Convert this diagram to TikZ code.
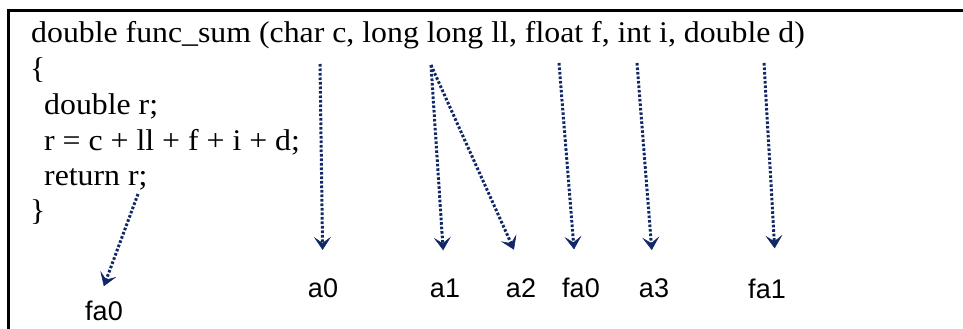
\documentclass[tikz,border=0pt]{standalone}
\usepackage{fontspec}
\usetikzlibrary{arrows.meta}
\newfontfamily\codefont{Liberation Serif}[FakeStretch=1.06]
\newfontfamily\lblfont{Liberation Sans}
\definecolor{argnavy}{RGB}{18,40,102}

\begin{document}
\begin{tikzpicture}[x=1pt, y=-1pt,
  codeln/.style={anchor=base west, inner sep=0pt, font={\codefont\fontsize{30}{36}\selectfont}},
  reglbl/.style={anchor=base, inner sep=0pt, font={\lblfont\fontsize{27}{32}\selectfont}},
  passarr/.style={draw=argnavy, line width=3pt, dash pattern=on 2.6pt off 1.9pt,
    -{Stealth[length=13pt, width=17pt, inset=6pt, line width=0.5pt]}}
]
\useasboundingbox (0,0) rectangle (963,329);
\draw[line width=3pt] (8,329) -- (8,11) -- (963,11);
% the code
\node[codeln] (l1) at (31,42) {double func\_sum (char c, long long ll, float f, int i, double d)};
\node[codeln] (l2) at (30,78) {\{};
\node[codeln] (l3) at (44,114) {double r;};
\node[codeln] (l4) at (44,150) {r = c + ll + f + i + d;};
\node[codeln] (l5) at (44,185) {return r;};
\node[codeln] (l6) at (30,220) {\}};
% where each value starts
\coordinate (sc) at (320,64);
\coordinate (sll) at (431,65);
\coordinate (sf) at (559,63);
\coordinate (si) at (637,63);
\coordinate (sd) at (764,63);
\coordinate (sr) at (138,194);
% registers
\node[reglbl] (ra0) at (323,297) {a0};
\node[reglbl] (ra1) at (445,297) {a1};
\node[reglbl] (ra2) at (521,297) {a2};
\node[reglbl] (rfa0) at (581,297) {fa0};
\node[reglbl] (ra3) at (654,297) {a3};
\node[reglbl] (rfa1) at (767,298) {fa1};
\node[reglbl] (rret) at (104,320) {fa0};
\draw[passarr, shorten >=28pt] (sc) -- (ra0.north);
\draw[passarr, shorten >=28pt] (sll) -- (ra1.north);
\draw[passarr, shorten >=31pt] (sll) -- (ra2.60);
\draw[passarr, shorten >=28pt] (sf) -- (rfa0.115);
\draw[passarr, shorten >=28pt] (si) -- (ra3.north);
\draw[passarr, shorten >=30pt] (sd) -- (rfa1.47);
\draw[passarr, shorten >=15pt] (sr) -- (rret.118);
\end{tikzpicture}
\end{document}
